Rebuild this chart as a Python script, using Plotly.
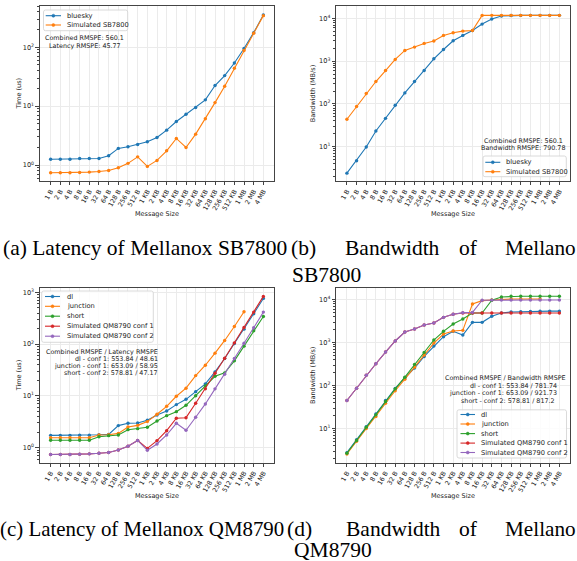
import plotly.graph_objects as go

W, H = 577, 561

sizes = ["1 B", "2 B", "4 B", "8 B", "16 B", "32 B", "64 B", "128 B", "256 B", "512 B",
         "1 KB", "2 KB", "4 KB", "8 KB", "16 KB", "32 KB", "64 KB", "128 KB", "256 KB", "512 KB",
         "1 MB", "2 MB", "4 MB"]

# (a) Latency SB7800 (us)
sb_lat_bluesky = [1.26, 1.26, 1.26, 1.29, 1.29, 1.29, 1.44, 1.92, 2.05, 2.24, 2.49, 2.94, 3.92,
                  5.5, 7.3, 9.5, 12.8, 22.4, 33, 54, 95, 177, 353]
sb_lat_sim = [0.74, 0.74, 0.74, 0.75, 0.76, 0.78, 0.81, 0.90, 1.07, 1.38, 0.95, 1.20, 1.75,
              2.83, 1.99, 3.35, 6.1, 11.5, 21.8, 44, 88, 173, 344]

# (b) Bandwidth SB7800 (MB/s)
sb_bw_bluesky = [2.4, 4.7, 9.8, 23.3, 46, 93, 181, 334, 604, 1135, 1875, 3000, 4000,
                 5230, 7360, 9650, 11350, 11700, 11750, 11800, 11800, 11800, 11800]
sb_bw_sim = [43.7, 86.7, 175, 334, 604, 1095, 1780, 2130, 2600, 2950, 4000, 4620, 5050,
             5230, 11750, 11800, 11800, 11800, 11800, 11800, 11800, 11800, 11800]

# (c) Latency QM8790 (us)
qm_lat_dl = [1.73, 1.73, 1.73, 1.74, 1.74, 1.78, 1.81, 2.67, 2.96, 2.99, 3.38, 4.29, 5.13,
             6.8, 8.6, 12.1, 17.1, 29.1, 52.8, 103, 195, 386, 765]
qm_lat_junction = [1.56, 1.56, 1.56, 1.56, 1.56, 1.76, 1.78, 1.89, 2.51, 2.70, 3.19, 4.42, 6.3,
                   9.85, 14.1, 24.7, 39.2, 67, 118, 220, 422]
qm_lat_short = [1.39, 1.39, 1.39, 1.39, 1.39, 1.63, 1.71, 1.76, 2.23, 2.33, 2.48, 3.28, 4.16,
                4.97, 6.6, 10.1, 15.6, 24, 27.9, 47.6, 91.5, 181, 343]
qm_lat_conf1 = [0.74, 0.74, 0.74, 0.75, 0.76, 0.78, 0.81, 0.90, 1.07, 1.38, 0.97, 1.37, 2.13,
                3.7, 3.8, 7.2, 13.7, 27.5, 53.6, 106, 210, 416, 837]
qm_lat_conf2 = [0.74, 0.74, 0.74, 0.75, 0.76, 0.78, 0.81, 0.90, 1.07, 1.38, 0.89, 1.18, 1.76,
                2.96, 2.17, 3.87, 7.0, 13.7, 26.3, 52.8, 104, 207, 416]

# (d) Bandwidth QM8790 (MB/s)
qm_bw_dl = [2.76, 5.5, 11.1, 22, 45, 86, 152, 255, 477, 832, 1373, 1830, 1500,
            2960, 2960, 4090, 4890, 5160, 5250, 5300, 5350, 5400, 5400]
qm_bw_junction = [2.57, 5.1, 10, 19, 39, 76, 141, 269, 513, 977, 1585, 1860, 1930,
                  7930, 9480, 9820, 10200, 10300, 10300, 10300, 10300]
qm_bw_short = [2.67, 5.3, 10.8, 20.9, 42.7, 84, 157, 311, 592, 1148, 1830, 2710, 3540,
               4890, 4890, 9650, 11540, 11960, 12000, 12000, 12000, 12000, 12000]
qm_bw_conf1 = [45, 87, 175, 322, 603, 1090, 1760, 2070, 2570, 2860, 3870, 4550, 4900,
               4900, 4900, 4900, 4900, 4900, 4900, 4900, 4900, 4900, 4900]
qm_bw_conf2 = [45, 87, 175, 322, 603, 1090, 1760, 2070, 2570, 2860, 3870, 4550, 4980,
               5050, 9650, 9750, 9800, 9800, 9800, 9800, 9800, 9800, 9800]

sb_names = ["bluesky", "Simulated SB7800"]
qm_names = ["dl", "junction", "short", "Simulated QM8790 conf 1", "Simulated QM8790 conf 2"]
C = ["#1f77b4", "#ff7f0e", "#2ca02c", "#d62728", "#9467bd"]

FONT = "DejaVu Sans"
TXT = "#222222"
FRAME = "#444444"


def X(px):
    return px / W


def Y(py):
    return 1 - py / H


fig = go.Figure()

panels = [
    ("", (40, 274), (6, 181), (-0.27, 2.70), [sb_lat_bluesky, sb_lat_sim], sb_names, "Time (us)"),
    ("2", (336.3, 570), (6, 181), (0.197, 4.29), [sb_bw_bluesky, sb_bw_sim], sb_names, "Bandwidth (MB/s)"),
    ("3", (40, 274), (288, 462.7), (-0.29, 3.085),
     [qm_lat_dl, qm_lat_junction, qm_lat_short, qm_lat_conf1, qm_lat_conf2], qm_names, "Time (us)"),
    ("4", (336.3, 570), (288, 462.7), (0.207, 4.27),
     [qm_bw_dl, qm_bw_junction, qm_bw_short, qm_bw_conf1, qm_bw_conf2], qm_names, "Bandwidth (MB/s)"),
]

minor_vals = [k * 10 ** n for n in range(-1, 5) for k in range(2, 10)]
annotations = []
shapes = []

for suf, xd, yd, yr, series, names, ytitle in panels:
    for i, (vals, name) in enumerate(zip(series, names)):
        fig.add_trace(go.Scatter(
            x=sizes[:len(vals)], y=vals, name=name, mode="lines+markers",
            line=dict(color=C[i], width=1.1),
            marker=dict(color=C[i], size=3.4, symbol="circle"),
            xaxis="x" + suf, yaxis="y" + suf, showlegend=False, cliponaxis=True,
        ))
    lo, hi = yr
    major_e = [e for e in range(int(lo) - 1, int(hi) + 2) if lo <= e <= hi]
    major = [10 ** e for e in major_e]
    fig.layout["xaxis" + suf] = dict(
        type="category", categoryorder="array", categoryarray=sizes,
        range=[-1.1, 23.1], domain=[X(xd[0]), X(xd[1])], anchor="y" + suf,
        tickangle=-60, ticks="outside", ticklen=3, tickwidth=0.8, tickcolor=FRAME,
        tickfont=dict(family=FONT, size=6.4, color=TXT),
        showgrid=True, gridcolor="#ebebeb", gridwidth=0.8,
        showline=True, mirror=True, linecolor=FRAME, linewidth=1.3, zeroline=False,
        automargin=False,
    )
    fig.layout["yaxis" + suf] = dict(
        type="log", range=[lo, hi], domain=[Y(yd[1]), Y(yd[0])], anchor="x" + suf,
        tickmode="array", tickvals=major,
        ticktext=["10<sup>%d</sup>" % e for e in major_e],
        ticks="outside", ticklen=3.5, tickwidth=0.8, tickcolor=FRAME,
        tickfont=dict(family=FONT, size=6.6, color=TXT),
        minor=dict(tickmode="array", tickvals=minor_vals, ticks="outside", ticklen=2,
                   tickwidth=0.6, tickcolor=FRAME, showgrid=False),
        showgrid=True, gridcolor="#ebebeb", gridwidth=0.8,
        showline=True, mirror=True, linecolor=FRAME, linewidth=1.3, zeroline=False,
        automargin=False,
    )
    annotations.append(dict(text="Message Size", xref="paper", yref="paper",
                            x=X((xd[0] + xd[1]) / 2), y=Y(yd[1] + 33), xanchor="center",
                            yanchor="middle", showarrow=False,
                            font=dict(family=FONT, size=6.5, color=TXT)))
    annotations.append(dict(text=ytitle, xref="paper", yref="paper",
                            x=X(xd[0] - 21 if suf in ("", "3") else xd[0] - 22.6),
                            y=Y((yd[0] + yd[1]) / 2), xanchor="center", yanchor="middle",
                            textangle=-90, showarrow=False,
                            font=dict(family=FONT, size=6.5, color=TXT)))


def legend(left, top, right, bottom, rows, lx0, lx1, tx, names):
    r = 2.0
    rx, ry = r / W, r / H
    x0, x1, y0, y1 = X(left), X(right), Y(top), Y(bottom)
    path = (f"M {x0 + rx},{y0} L {x1 - rx},{y0} Q {x1},{y0} {x1},{y0 - ry} "
            f"L {x1},{y1 + ry} Q {x1},{y1} {x1 - rx},{y1} L {x0 + rx},{y1} "
            f"Q {x0},{y1} {x0},{y1 + ry} L {x0},{y0 - ry} Q {x0},{y0} {x0 + rx},{y0} Z")
    shapes.append(dict(type="path", path=path, xref="paper", yref="paper",
                       line=dict(color="#d0d0d0", width=0.8),
                       fillcolor="rgba(255,255,255,0.85)", layer="above"))
    for i, (ry_, name) in enumerate(zip(rows, names)):
        shapes.append(dict(type="line", xref="paper", yref="paper",
                           x0=X(lx0), x1=X(lx1), y0=Y(ry_), y1=Y(ry_),
                           line=dict(color=C[i], width=1.1), layer="above"))
        cx = (lx0 + lx1) / 2
        shapes.append(dict(type="circle", xref="paper", yref="paper",
                           x0=X(cx - 1.5), x1=X(cx + 1.5), y0=Y(ry_ + 1.5), y1=Y(ry_ - 1.5),
                           line=dict(color=C[i], width=0.5), fillcolor=C[i], layer="above"))
        annotations.append(dict(text=name, xref="paper", yref="paper", x=X(tx), y=Y(ry_),
                                xanchor="left", yanchor="middle", showarrow=False,
                                font=dict(family=FONT, size=6.7, color=TXT)))


legend(43.5, 10, 127.7, 30.7, [15.7, 25.0], 45.7, 61, 64.5, sb_names)
legend(483, 156, 566.3, 176.7, [162.3, 171.7], 485.3, 500.3, 503.8, sb_names)
legend(41.7, 291, 153.3, 342.3, [296.5, 306.3, 316.2, 326.2, 336.2], 45, 60, 64.5, qm_names)
legend(457, 409.8, 566.5, 458, [414.5, 424, 433.6, 443.1, 452.5], 460.5, 475, 478.8, qm_names)


def txt(s, x, y, anchor="center", size=6.4):
    annotations.append(dict(text=s, xref="paper", yref="paper", x=X(x), y=Y(y),
                            xanchor=anchor, yanchor="middle", showarrow=False,
                            font=dict(family=FONT, size=size, color=TXT)))


txt("Combined RMSPE: 560.1", 84.7, 38.3)
txt("Latency RMSPE: 45.77", 84.7, 45.7)
txt("Combined RMSPE: 560.1", 523.5, 141)
txt("Bandwidth RMSPE: 790.78", 523.5, 148)
txt("Combined RMSPE / Latency RMSPE", 159.5, 352, "right")
txt("dl - conf 1: 553.84 / 48.61", 159.5, 359, "right")
txt("junction - conf 1: 653.09 / 58.95", 159.5, 366, "right")
txt("short - conf 2: 578.81 / 47.17", 159.5, 372.8, "right")
txt("Combined RMSPE / Bandwidth RMSPE", 567.7, 378, "right")
txt("dl - conf 1: 553.84 / 781.74", 558.5, 385.5, "right")
txt("junction - conf 1: 653.09 / 921.73", 559, 393.3, "right")
txt("short - conf 2: 578.81 / 817.2", 556.5, 401, "right")

SERIF = "Liberation Serif"


def cap(s, x, y, size=21.5):
    annotations.append(dict(text=s, xref="paper", yref="paper", x=X(x), y=Y(y),
                            xanchor="left", yanchor="middle", showarrow=False, borderpad=0,
                            font=dict(family=SERIF, size=size, color="#000000")))


# sub-figure captions (justified words; right column runs to the page edge as in the reference)
cap("(a) Latency of Mellanox SB7800", 1.5, 248.5)
cap("(b)", 289.5, 248.5)
cap("Bandwidth", 343.5, 248.5)
cap("of", 457.5, 248.5)
cap("Mellano", 503.5, 248.5, 21.2)
cap("SB7800", 290.5, 274.5)
cap("(c) Latency of Mellanox QM8790", -1.5, 528.5, 20.9)
cap("(d)", 286, 528.5)
cap("Bandwidth", 344.5, 528.5)
cap("of", 457.5, 528.5)
cap("Mellano", 503.5, 528.5, 21.2)
cap("QM8790", 293, 550)

fig.update_layout(
    width=W, height=H, margin=dict(l=0, r=0, t=0, b=0),
    paper_bgcolor="white", plot_bgcolor="white",
    showlegend=False, annotations=annotations, shapes=shapes,
)

fig.write_html("out.html")
